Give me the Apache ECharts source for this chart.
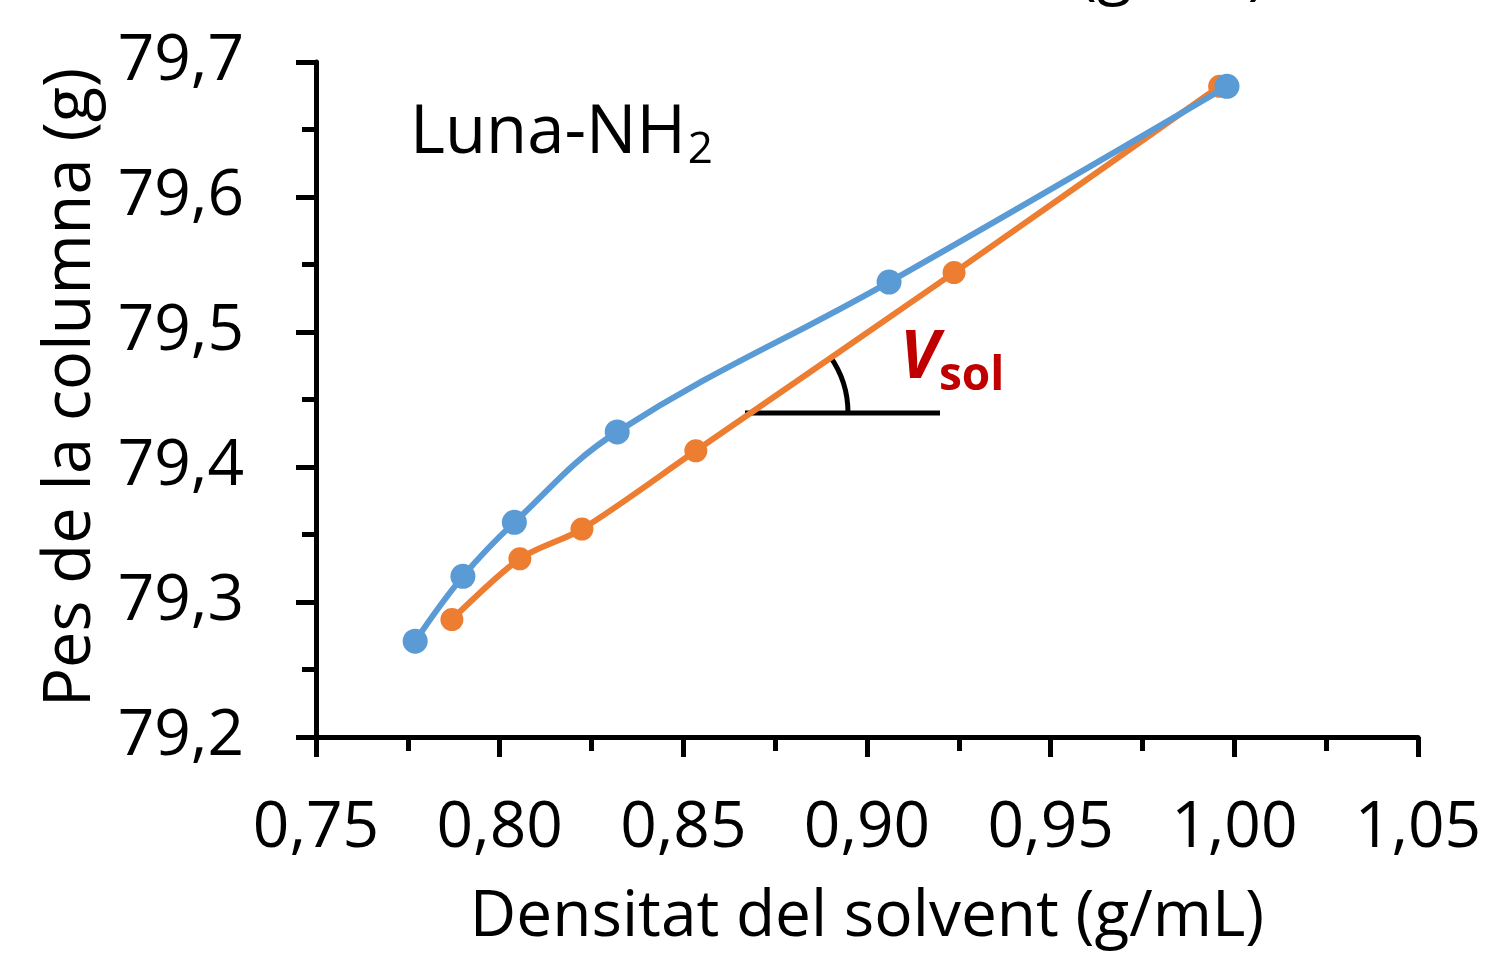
<!DOCTYPE html>
<html>
<head>
<meta charset="utf-8">
<script src="https://cdn.jsdelivr.net/npm/echarts@6/dist/echarts.min.js"></script>
<style>
html, body { margin: 0; padding: 0; background: #fff; }
#main { width: 1497px; height: 956px; }
</style>
</head>
<body>
<div id="main"></div>
<script>
var myChart = echarts.init(document.getElementById("main"));

// blue series
var densBlue = [0.777, 0.790, 0.804, 0.832, 0.906, 0.998];
var pesBlue = [79.271, 79.319, 79.359, 79.426, 79.537, 79.682];
// orange series
var densOrange = [0.787, 0.8055, 0.8224, 0.8534, 0.9237, 0.996];
var pesOrange = [79.287, 79.332, 79.354, 79.412, 79.544, 79.682];

var xTicks = [0.75, 0.80, 0.85, 0.90, 0.95, 1.00, 1.05];
var yTicks = [79.2, 79.3, 79.4, 79.5, 79.6, 79.7];

function pairs(xs, ys) {
  return xs.map(function (x, i) { return [x, ys[i]]; });
}

var font = "'Open Sans', 'Noto Sans', sans-serif";

var option = {
  backgroundColor: '#fff',
  animation: false,
  grid: {
    left: 316,
    right: 79,
    top: 62,
    bottom: 219
  },
  xAxis: {
    type: 'value',
    min: xTicks[0],
    max: xTicks[xTicks.length - 1],
    interval: 0.05,
    name: 'Densitat del solvent (g/mL)',
    nameLocation: 'middle',
    nameGap: 149,
    nameTextStyle: { fontFamily: font, fontSize: 64, color: '#000' },
    axisLine: { onZero: false, lineStyle: { color: '#000', width: 5 } },
    axisTick: { show: true, length: 20, lineStyle: { color: '#000', width: 5 } },
    minorTick: { show: true, splitNumber: 2, length: 14, lineStyle: { color: '#000', width: 5 } },
    splitLine: { show: false },
    axisLabel: {
      margin: 60,
      fontFamily: font,
      fontSize: 64,
      color: '#000',
      formatter: function (v) { return v.toFixed(2).replace('.', ','); }
    }
  },
  yAxis: {
    type: 'value',
    min: yTicks[0],
    max: yTicks[yTicks.length - 1],
    interval: 0.1,
    name: 'Pes de la columna (g)',
    nameLocation: 'middle',
    nameGap: 212,
    nameTextStyle: { fontFamily: font, fontSize: 65, color: '#000', padding: [0, 0, 0, 24] },
    axisLine: { show: true, lineStyle: { color: '#000', width: 5 } },
    axisTick: { show: true, length: 20, lineStyle: { color: '#000', width: 5 } },
    minorTick: { show: true, splitNumber: 2, length: 14, lineStyle: { color: '#000', width: 5 } },
    splitLine: { show: false },
    axisLabel: {
      margin: 72,
      fontFamily: font,
      fontSize: 64,
      color: '#000',
      formatter: function (v) { return v.toFixed(1).replace('.', ','); }
    }
  },
  series: [{
    name: 'orange',
    type: 'line',
    smooth: 0.3,
    data: pairs(densOrange, pesOrange),
    symbol: 'circle',
    symbolSize: 23,
    lineStyle: { color: '#ED7D31', width: 6 },
    itemStyle: { color: '#ED7D31', opacity: 1 },
    z: 2
  }, {
    name: 'blue',
    type: 'line',
    smooth: 0.4,
    data: pairs(densBlue, pesBlue),
    symbol: 'circle',
    symbolSize: 25,
    lineStyle: { color: '#5B9BD5', width: 6 },
    itemStyle: { color: '#5B9BD5', opacity: 1 },
    z: 3
  }],
  graphic: [{
    type: 'text',
    left: 410,
    top: 100,
    style: {
      text: '{a|Luna-NH}{b|2}',
      rich: {
        a: { fontFamily: font, fontSize: 67, fill: '#000' },
        b: { fontFamily: font, fontSize: 44, fill: '#000', padding: [34, 0, 0, 2] }
      }
    }
  }, {
    type: 'text',
    left: 900,
    top: 326,
    style: {
      text: '{v|V}{s|sol}',
      rich: {
        v: { fontFamily: font, fontSize: 66, fontWeight: 'bold', fontStyle: 'italic', fill: '#C00000' },
        s: { fontFamily: font, fontSize: 46, fontWeight: 'bold', fill: '#C00000', padding: [36, 0, 0, 0] }
      }
    }
  }, {
    type: 'line',
    shape: { x1: 745, y1: 413, x2: 940, y2: 413 },
    style: { stroke: '#000', lineWidth: 5 }
  }, {
    type: 'arc',
    shape: { cx: 750, cy: 413, r: 98, startAngle: -0.62, endAngle: 0, clockwise: true },
    style: { stroke: '#000', lineWidth: 5, fill: null }
  }, {
    type: 'text',
    x: 1078,
    y: 6,
    style: {
      text: '(g/mL)',
      fontFamily: font,
      fontSize: 64,
      fill: '#000',
      verticalAlign: 'bottom'
    }
  }]
};
myChart.setOption(option);
</script>
</body>
</html>
